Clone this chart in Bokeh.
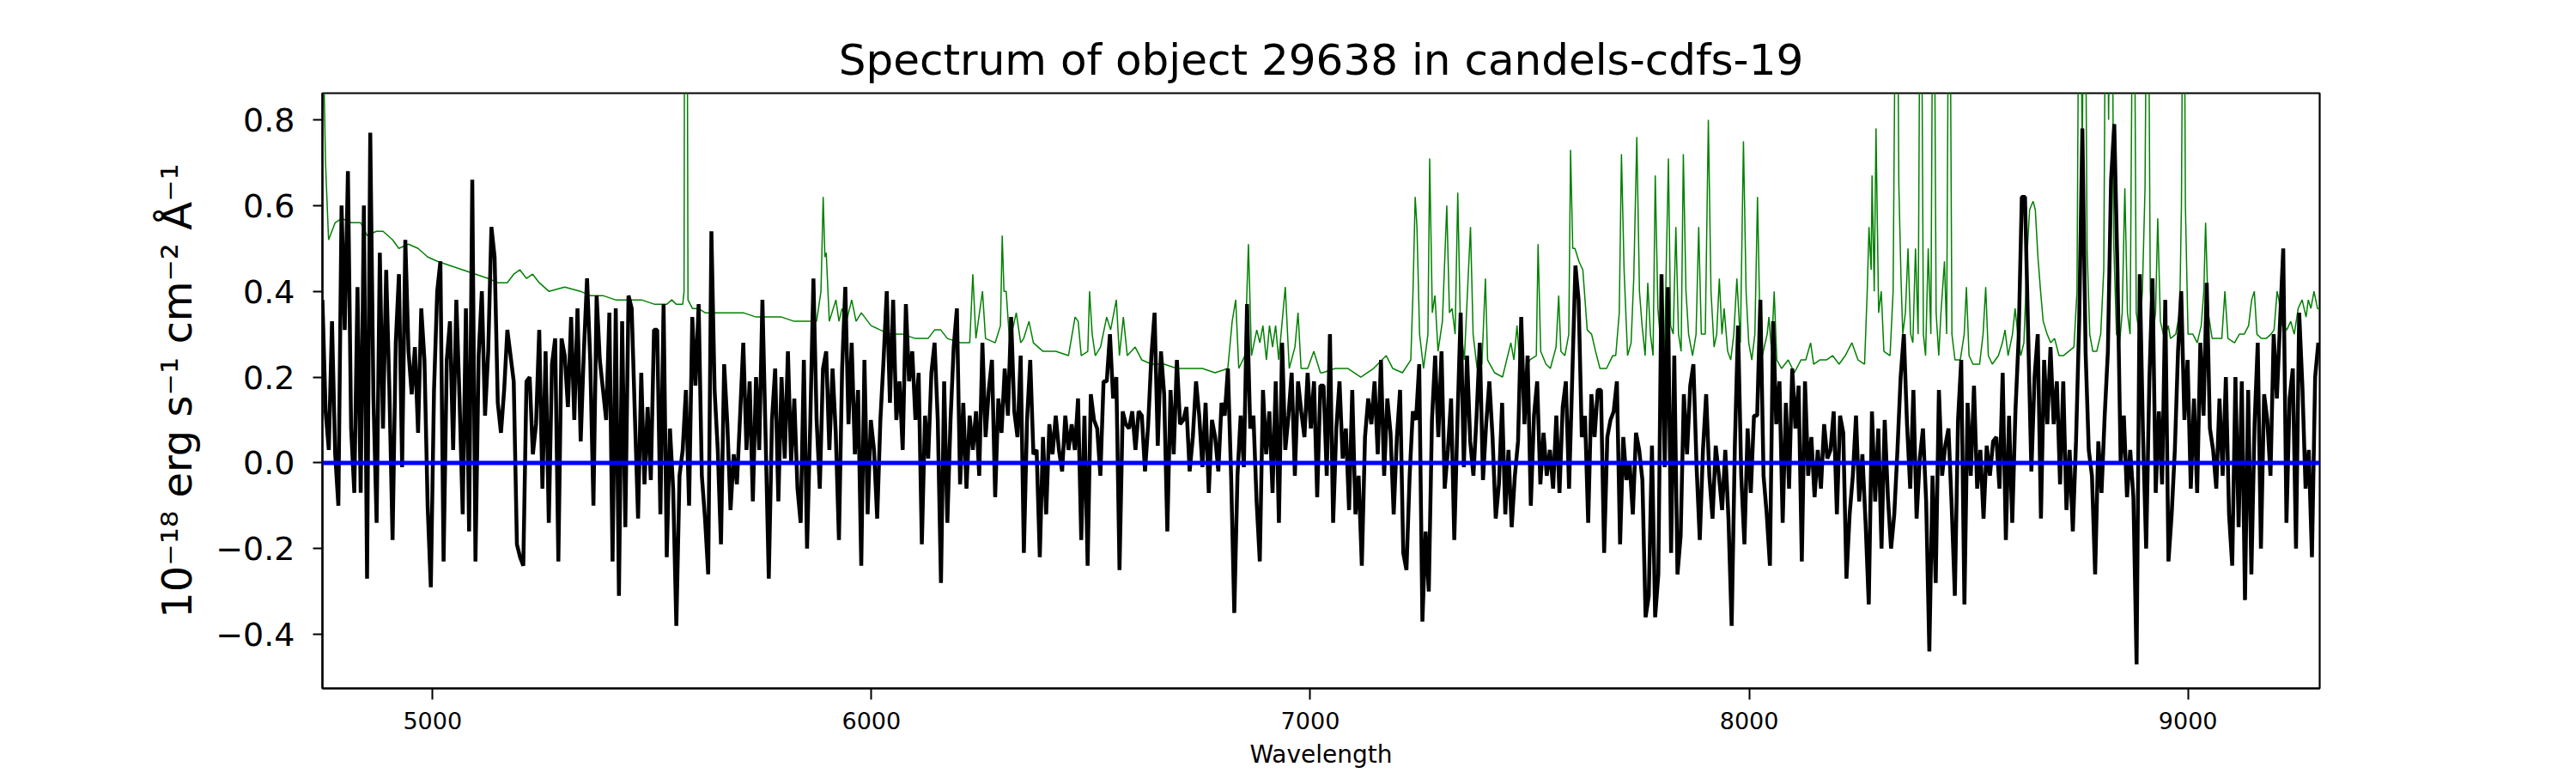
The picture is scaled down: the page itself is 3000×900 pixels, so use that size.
from bokeh.plotting import figure
from bokeh.models import Range1d, FixedTicker, Span
from bokeh.embed import file_html
from bokeh.resources import INLINE

TITLE = "Spectrum of object 29638 in candels-cdfs-19"
X_LABEL = "Wavelength"
Y_LABEL = "10\u207b\u00b9\u2078 erg s\u207b\u00b9 cm\u207b\u00b2 \u00c5\u207b\u00b9"

x_limits = (4749, 9300)
y_limits = (-0.526, 0.862)
x_ticks = [5000, 6000, 7000, 8000, 9000]
y_ticks = [-0.4, -0.2, 0.0, 0.2, 0.4, 0.6, 0.8]
y_tick_labels = ["\u22120.4", "\u22120.2", "0.0", "0.2", "0.4", "0.6", "0.8"]

# object flux (black), sampled on a regular wavelength grid
flux_wave_start = 4749.0
flux_wave_step = 7.265
flux = [
    0.38, 0.12, 0.03, 0.33, 0.02, -0.10, 0.60, 0.31, 0.68, 0.08,
    -0.07, 0.41, -0.07, 0.60, -0.27, 0.77, 0.15, -0.14, 0.49, 0.08,
    0.45, 0.17, -0.18, 0.28, 0.44, -0.01, 0.52, 0.26, 0.16, 0.27,
    0.07, 0.36, 0.24, -0.10, -0.29, 0.17, 0.40, 0.47, -0.23, 0.24,
    0.33, 0.03, 0.38, 0.15, -0.12, 0.36, -0.16, 0.66, -0.23, 0.25,
    0.40, 0.11, 0.26, 0.55, 0.48, 0.14, 0.07, 0.17, 0.31, 0.25,
    0.19, -0.19, -0.22, -0.24, 0.19, 0.20, 0.02, 0.09, 0.31, -0.06,
    0.26, -0.14, 0.23, 0.29, -0.23, 0.29, 0.25, 0.13, 0.34, 0.10,
    0.36, 0.05, 0.26, 0.43, 0.24, -0.10, 0.39, 0.24, 0.17, 0.10,
    0.35, -0.23, 0.36, -0.31, 0.33, -0.15, 0.39, 0.36, 0.11, -0.13,
    0.21, -0.05, 0.13, -0.04, 0.31, 0.31, -0.12, 0.37, -0.22, 0.08,
    -0.06, -0.38, -0.03, 0.03, 0.17, -0.10, 0.34, 0.18, 0.37, -0.03,
    -0.13, -0.26, 0.54, 0.17, 0.03, -0.19, 0.23, 0.09, -0.11, 0.02,
    -0.05, 0.11, 0.28, 0.03, 0.19, -0.09, 0.20, 0.03, 0.38, 0.06,
    -0.27, 0.10, 0.22, -0.09, 0.20, 0.01, 0.26, 0.00, 0.15, -0.06,
    -0.14, 0.24, -0.20, 0.09, 0.43, 0.10, -0.06, 0.22, 0.26, 0.03,
    0.22, 0.07, -0.18, 0.22, 0.41, 0.09, 0.28, 0.02, 0.17, -0.24,
    0.24, -0.12, 0.10, 0.03, -0.13, 0.10, 0.24, 0.40, 0.14, 0.38,
    0.10, 0.19, 0.03, 0.37, 0.19, 0.26, 0.10, 0.21, -0.19, 0.11,
    0.01, 0.21, 0.28, 0.10, -0.28, 0.19, -0.14, 0.10, 0.27, 0.36,
    -0.05, 0.14, -0.06, 0.11, 0.03, 0.12, -0.03, 0.28, 0.06, 0.17,
    0.24, -0.08, 0.15, 0.07, 0.22, 0.11, 0.34, 0.12, 0.06, 0.25,
    -0.21, 0.10, 0.24, 0.02, 0.03, -0.22, 0.06, -0.12, 0.09, 0.02,
    0.11, 0.03, -0.02, 0.11, 0.03, 0.09, 0.03, 0.15, -0.18, 0.11,
    -0.24, 0.16, 0.10, 0.08, -0.03, 0.19, 0.19, 0.30, 0.15, 0.20,
    -0.25, 0.12, 0.09, 0.08, 0.12, 0.03, 0.12, 0.11, -0.02, 0.09,
    0.25, 0.35, 0.04, 0.26, 0.16, -0.16, 0.17, 0.02, 0.24, 0.09,
    0.10, 0.13, -0.02, 0.06, 0.19, 0.11, -0.01, 0.14, -0.07, 0.10,
    0.06, -0.02, 0.14, 0.11, 0.22, -0.03, -0.35, -0.03, 0.11, -0.01,
    0.37, 0.08, 0.11, -0.09, -0.23, 0.17, 0.02, 0.12, -0.07, 0.19,
    -0.14, 0.28, 0.03, 0.11, 0.21, -0.03, 0.19, 0.12, 0.06, 0.21,
    0.08, 0.19, -0.08, 0.18,
    0.18, -0.03, 0.30, -0.14, 0.08, 0.19, 0.01, 0.08, -0.11, 0.17,
    -0.12, -0.03, -0.24, 0.06, 0.15, 0.09, 0.19, 0.02, 0.24, -0.03,
    0.15, 0.07, -0.12, 0.06, 0.17, -0.21, -0.25, -0.03, 0.12, 0.10,
    0.23, -0.37, -0.16, -0.30, 0.10, 0.25, 0.06, 0.26, -0.06, 0.03,
    0.15, -0.18, 0.10, 0.35, -0.01, 0.25, 0.05, -0.03, 0.11, 0.28,
    -0.04, 0.09, 0.19, 0.06, -0.13, -0.05, 0.14, -0.12, 0.03, -0.15,
    -0.03, 0.05, 0.34, 0.09, 0.25, -0.10, 0.11, 0.19, -0.05, 0.07,
    -0.03, 0.03, -0.06, 0.11, -0.07, 0.13, 0.19, -0.06, 0.20, 0.46,
    0.38, 0.06, 0.11, -0.14, 0.16, 0.06, 0.17, 0.17, -0.21, 0.06,
    0.10, 0.12, 0.19, -0.19, 0.06, -0.04, 0.00, -0.12, 0.07, 0.03,
    -0.04, -0.36, -0.31, 0.04, -0.36, -0.26, 0.44, -0.01, 0.41, -0.21,
    0.25, -0.26, -0.17, 0.16, 0.02, 0.18, 0.23, -0.01, -0.18, 0.03,
    0.16, -0.03, -0.13, 0.04, -0.03, -0.11, 0.03, -0.13, -0.38, 0.04,
    0.32, -0.03, -0.19, 0.08, -0.07, 0.11, 0.11, 0.38, -0.03, -0.12,
    -0.24, 0.33, 0.09, 0.19, -0.14, 0.14, -0.06, 0.22, 0.08, 0.18,
    -0.23, 0.19, -0.03, 0.06, -0.08, 0.03, -0.06, 0.09, 0.01, 0.03,
    0.12, -0.12, 0.11, 0.07, -0.27, -0.12, -0.03, 0.11, -0.09, 0.02,
    -0.14, -0.33, 0.12, -0.09, 0.08, -0.20, 0.10, -0.08, -0.20, -0.12,
    0.03, 0.20, 0.30, 0.09, -0.06, 0.17, -0.13, 0.01, 0.08, -0.09,
    -0.44, -0.03, -0.28, 0.17, -0.03, 0.04, 0.08, -0.10, -0.31, 0.10,
    0.24, -0.33, 0.14, -0.03, 0.18, -0.06, 0.03, -0.13, 0.04, -0.03,
    0.05, 0.06, -0.06, 0.21, -0.18, 0.11, -0.14, 0.12, 0.29, 0.62,
    0.62, 0.30, -0.02, 0.20, 0.30, -0.13, 0.24, 0.09, 0.27, 0.09,
    0.19, -0.05, 0.19, -0.11, 0.03, -0.16, 0.05, 0.33, 0.78, 0.26,
    0.03, -0.03, -0.26, 0.05, -0.07, 0.11, 0.26, 0.66, 0.79, 0.45,
    0.00, 0.11, -0.08, 0.03, -0.08, -0.47, 0.44, 0.07, -0.20, 0.19,
    0.43, -0.07, 0.12, -0.05, 0.38, -0.23, -0.12, 0.03, 0.26, 0.40,
    0.10, 0.24, -0.06, 0.15, -0.07, 0.28, 0.11, 0.42, 0.08, 0.03,
    -0.06, 0.15, -0.03, 0.20, -0.12, -0.24, 0.20, -0.15, 0.19, -0.32,
    0.17, -0.26, 0.09, 0.28, -0.20, 0.16, 0.10, -0.03, 0.30, 0.15,
    0.33, 0.50, -0.14, 0.15, 0.22, -0.20, 0.35, 0.18, -0.06, 0.03,
    -0.22, 0.20, 0.28,
]

# noise / sky spectrum (green): (wavelength, value)
noise_points = [
    (4749, 1.10), (4756, 0.70), (4763, 0.52), (4778, 0.56), (4793, 0.57), (4814, 0.56),
    (4836, 0.56), (4851, 0.53), (4872, 0.54), (4887, 0.54), (4909, 0.52), (4923, 0.50),
    (4945, 0.51), (4967, 0.50), (4989, 0.48), (5011, 0.47), (5040, 0.46), (5069, 0.45),
    (5098, 0.44), (5127, 0.43), (5149, 0.42), (5170, 0.42), (5185, 0.44), (5199, 0.45),
    (5214, 0.43), (5228, 0.44), (5243, 0.42), (5265, 0.40), (5301, 0.41), (5337, 0.40),
    (5359, 0.39), (5388, 0.39), (5417, 0.38), (5446, 0.38), (5476, 0.38), (5505, 0.37),
    (5534, 0.37), (5545, 0.38), (5555, 0.37), (5570, 0.37), (5573, 0.40), (5575, 1.60),
    (5579, 1.60), (5582, 0.38), (5592, 0.36), (5606, 0.36), (5621, 0.35), (5650, 0.35),
    (5679, 0.35), (5708, 0.35), (5737, 0.34), (5766, 0.34), (5795, 0.34), (5824, 0.33),
    (5853, 0.33), (5875, 0.33), (5885, 0.40), (5890, 0.62), (5894, 0.48), (5897, 0.49),
    (5904, 0.33), (5919, 0.38), (5926, 0.33), (5933, 0.36), (5943, 0.33), (5955, 0.38),
    (5965, 0.33), (5977, 0.35), (5999, 0.32), (6020, 0.31), (6042, 0.30), (6071, 0.30),
    (6100, 0.29), (6129, 0.29), (6144, 0.31), (6158, 0.31), (6173, 0.29), (6202, 0.28),
    (6224, 0.28), (6231, 0.44), (6238, 0.29), (6253, 0.40), (6260, 0.29), (6282, 0.28),
    (6294, 0.32), (6298, 0.53), (6302, 0.40), (6307, 0.40), (6315, 0.28), (6330, 0.35),
    (6340, 0.28), (6347, 0.29), (6359, 0.33), (6369, 0.28), (6391, 0.26), (6420, 0.26),
    (6449, 0.25), (6464, 0.34), (6471, 0.33), (6478, 0.25), (6493, 0.26), (6497, 0.40),
    (6503, 0.30), (6510, 0.25), (6522, 0.27), (6536, 0.34), (6545, 0.31), (6558, 0.38),
    (6565, 0.25), (6574, 0.34), (6583, 0.25), (6601, 0.27), (6616, 0.24), (6638, 0.23),
    (6667, 0.23), (6696, 0.22), (6725, 0.22), (6754, 0.22), (6783, 0.21), (6812, 0.22),
    (6822, 0.33), (6830, 0.38), (6837, 0.22), (6851, 0.25), (6859, 0.51), (6866, 0.25),
    (6878, 0.31), (6885, 0.28), (6892, 0.32), (6900, 0.24), (6907, 0.32), (6914, 0.27),
    (6921, 0.32), (6928, 0.24), (6943, 0.41), (6952, 0.22), (6965, 0.27), (6972, 0.35),
    (6979, 0.22), (6994, 0.22), (7008, 0.26), (7023, 0.21),
    (7028, 0.21), (7057, 0.22), (7086, 0.22), (7115, 0.20), (7144, 0.22), (7173, 0.25),
    (7188, 0.22), (7210, 0.21), (7229, 0.24), (7234, 0.40), (7239, 0.62), (7243, 0.55),
    (7249, 0.30), (7258, 0.22), (7268, 0.30), (7272, 0.71), (7278, 0.35), (7284, 0.39),
    (7291, 0.26), (7301, 0.33), (7311, 0.60), (7317, 0.35), (7323, 0.36), (7330, 0.30),
    (7336, 0.63), (7342, 0.32), (7351, 0.24), (7365, 0.55), (7371, 0.30), (7380, 0.22),
    (7391, 0.23), (7399, 0.43), (7404, 0.24), (7420, 0.21), (7438, 0.20), (7457, 0.28),
    (7464, 0.24), (7471, 0.32), (7478, 0.22), (7490, 0.21), (7500, 0.24), (7515, 0.25),
    (7519, 0.51), (7525, 0.26), (7537, 0.23), (7547, 0.22), (7560, 0.27), (7566, 0.39),
    (7571, 0.26), (7580, 0.25), (7589, 0.30), (7593, 0.73), (7598, 0.50), (7603, 0.50),
    (7612, 0.47), (7621, 0.45), (7631, 0.31), (7641, 0.30), (7650, 0.26), (7660, 0.22),
    (7675, 0.22), (7689, 0.25), (7696, 0.25), (7704, 0.35), (7709, 0.72), (7715, 0.45),
    (7723, 0.25), (7731, 0.28), (7737, 0.43), (7744, 0.76), (7750, 0.40), (7756, 0.32),
    (7763, 0.25), (7769, 0.42), (7775, 0.30), (7781, 0.25), (7786, 0.67), (7792, 0.36),
    (7800, 0.26), (7807, 0.25), (7816, 0.71), (7821, 0.32), (7827, 0.30), (7833, 0.55),
    (7839, 0.30), (7845, 0.26), (7850, 0.72), (7856, 0.40), (7862, 0.30), (7871, 0.25),
    (7879, 0.30), (7885, 0.55), (7891, 0.30), (7900, 0.30), (7907, 0.80), (7913, 0.40),
    (7920, 0.27), (7926, 0.30), (7932, 0.43), (7938, 0.30), (7943, 0.36), (7951, 0.26),
    (7958, 0.24), (7965, 0.30), (7972, 0.43), (7980, 0.28), (7987, 0.75), (7993, 0.40),
    (7999, 0.28), (8006, 0.24), (8013, 0.30), (8019, 0.62), (8025, 0.30), (8030, 0.25),
    (8041, 0.30), (8045, 0.34), (8051, 0.26), (8057, 0.40), (8063, 0.24), (8074, 0.22),
    (8089, 0.24), (8103, 0.21), (8118, 0.24), (8129, 0.24), (8140, 0.28), (8147, 0.23),
    (8161, 0.24), (8176, 0.24), (8190, 0.25), (8205, 0.23), (8219, 0.25), (8234, 0.28),
    (8248, 0.24), (8263, 0.23), (8269, 0.40), (8273, 0.55), (8278, 0.45), (8280, 0.67),
    (8285, 0.40), (8289, 0.78), (8295, 0.35), (8301, 0.40), (8307, 0.26), (8321, 0.25),
    (8328, 0.40), (8336, 1.50), (8341, 0.65), (8346, 0.43), (8350, 0.30), (8356, 0.35),
    (8362, 0.50), (8368, 0.30), (8373, 0.28), (8379, 0.50), (8385, 0.30), (8391, 1.50),
    (8397, 0.30), (8402, 0.25), (8408, 0.50), (8414, 0.30), (8420, 1.50), (8426, 0.35),
    (8432, 0.25), (8437, 0.35), (8445, 0.47), (8450, 0.30), (8456, 1.50), (8462, 0.30),
    (8469, 0.24), (8481, 0.24), (8490, 0.30), (8495, 0.41), (8501, 0.25), (8510, 0.23),
    (8525, 0.23), (8533, 0.30), (8539, 0.41), (8545, 0.25), (8554, 0.23), (8568, 0.25),
    (8577, 0.28), (8583, 0.31), (8590, 0.25), (8600, 0.30), (8606, 0.36), (8612, 0.30),
    (8619, 0.25), (8626, 0.28), (8634, 0.50), (8639, 0.59), (8647, 0.61), (8652, 0.59),
    (8658, 0.48), (8664, 0.40), (8670, 0.33), (8679, 0.30), (8687, 0.28), (8696, 0.29),
    (8706, 0.25), (8716, 0.25), (8728, 0.26), (8740, 0.27), (8747, 0.40), (8753, 1.50),
    (8759, 0.70), (8764, 1.50), (8770, 0.50), (8776, 0.30), (8783, 0.26), (8792, 0.26),
    (8801, 0.30), (8808, 0.45), (8814, 1.50), (8819, 0.80), (8825, 1.50), (8831, 0.50),
    (8837, 0.30), (8844, 0.28), (8850, 0.35), (8856, 0.64), (8862, 0.35), (8868, 0.30),
    (8876, 1.50), (8882, 0.35), (8889, 0.30), (8896, 0.40), (8902, 0.64), (8908, 1.50),
    (8914, 0.40), (8920, 0.30), (8926, 0.35), (8931, 0.57), (8937, 0.33), (8946, 0.29),
    (8955, 0.32), (8960, 0.29), (8972, 0.30), (8981, 0.35), (8985, 0.60), (8990, 1.50),
    (8994, 0.60), (9000, 0.30), (9011, 0.30), (9021, 0.28), (9030, 0.32), (9036, 0.40),
    (9040, 0.56), (9046, 0.35), (9055, 0.29), (9065, 0.29), (9077, 0.29), (9084, 0.40),
    (9091, 0.29), (9106, 0.28), (9117, 0.30), (9128, 0.30), (9138, 0.32), (9145, 0.38),
    (9151, 0.40), (9157, 0.30), (9167, 0.29), (9178, 0.29), (9189, 0.30), (9196, 0.31),
    (9203, 0.40), (9207, 0.38), (9215, 0.32), (9225, 0.31), (9234, 0.33), (9242, 0.30),
    (9251, 0.36), (9260, 0.38), (9269, 0.34), (9274, 0.38), (9280, 0.36), (9287, 0.40),
    (9295, 0.36), (9302, 0.36),
]

# continuum model (blue)
model_level = 0.0

flux_wave = [flux_wave_start + flux_wave_step * i for i in range(len(flux))]
noise_wave = [w for w, _ in noise_points]
noise_flux = [f for _, f in noise_points]

FONT = "DejaVu Sans"

p = figure(
    frame_width=2326, frame_height=693,
    min_border_left=375, min_border_right=299,
    min_border_top=108, min_border_bottom=99,
    x_range=Range1d(*x_limits), y_range=Range1d(*y_limits),
    output_backend="svg", toolbar_location=None,
    title=TITLE,
)
p.background_fill_color = "white"
p.border_fill_color = "white"
p.grid.visible = False
p.outline_line_color = "black"
p.outline_line_width = 2.2

p.title.text_font = FONT
p.title.text_font_size = "50px"
p.title.text_font_style = "normal"
p.title.align = "center"
p.title.standoff = 20
p.title.text_color = "black"

for ax in (p.xaxis[0], p.yaxis[0]):
    ax.axis_line_width = 2.2
    ax.axis_line_color = "black"
    ax.major_tick_line_width = 2
    ax.major_tick_line_color = "black"
    ax.major_tick_in = 0
    ax.minor_tick_line_color = None
    ax.major_label_text_font = FONT
    ax.axis_label_text_font = FONT
    ax.axis_label_text_font_style = "normal"
    ax.major_label_text_color = "black"
    ax.axis_label_text_color = "black"

p.xaxis.ticker = FixedTicker(ticks=x_ticks)
p.xaxis.major_tick_out = 13
p.xaxis.major_label_standoff = 14
p.xaxis.major_label_text_font_size = "27px"
p.xaxis.axis_label = X_LABEL
p.xaxis.axis_label_text_font_size = "28px"
p.xaxis.axis_label_standoff = 10

p.yaxis.ticker = FixedTicker(ticks=y_ticks)
p.yaxis.major_label_overrides = {t: s for t, s in zip(y_ticks, y_tick_labels)}
p.yaxis.major_tick_out = 11
p.yaxis.major_label_standoff = 21
p.yaxis.major_label_text_font_size = "38px"
p.yaxis.axis_label = Y_LABEL
p.yaxis.axis_label_text_font_size = "48px"
p.yaxis.axis_label_standoff = 14

p.line(noise_wave, noise_flux, line_color="green", line_width=1.5)
p.add_layout(Span(location=model_level, dimension="width", line_color="blue", line_width=5))
p.line(flux_wave, flux, line_color="black", line_width=4.5)

open("out.html", "w").write(file_html(p, INLINE))
